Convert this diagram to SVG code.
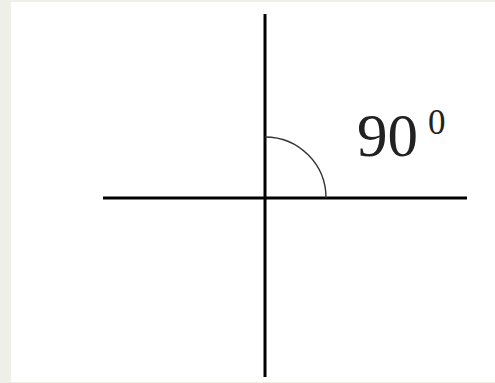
<svg xmlns="http://www.w3.org/2000/svg" width="495" height="383" viewBox="0 0 495 383">
<style>
.axis{stroke:#000;stroke-width:3;fill:none}
.arc{stroke:#333;stroke-width:1.4;fill:none}
.lbl{font-family:"Liberation Serif","DejaVu Serif",serif;fill:#222}
</style>
<rect x="0" y="0" width="495" height="383" fill="#efefea"/>
<rect x="11" y="2" width="484" height="380" fill="#ffffff"/>
<g id="connectors">
<line class="axis" x1="265" y1="14" x2="265" y2="377"/>
<line class="axis" x1="103" y1="198" x2="467" y2="198"/>
<path class="arc" d="M265,137 A61,61 0 0 1 326,198"/>
</g>
<g id="label">
<text class="lbl" x="357" y="156" font-size="61" textLength="61" lengthAdjust="spacingAndGlyphs">90</text>
<text class="lbl" x="428" y="134" font-size="35">0</text>
</g>
</svg>
